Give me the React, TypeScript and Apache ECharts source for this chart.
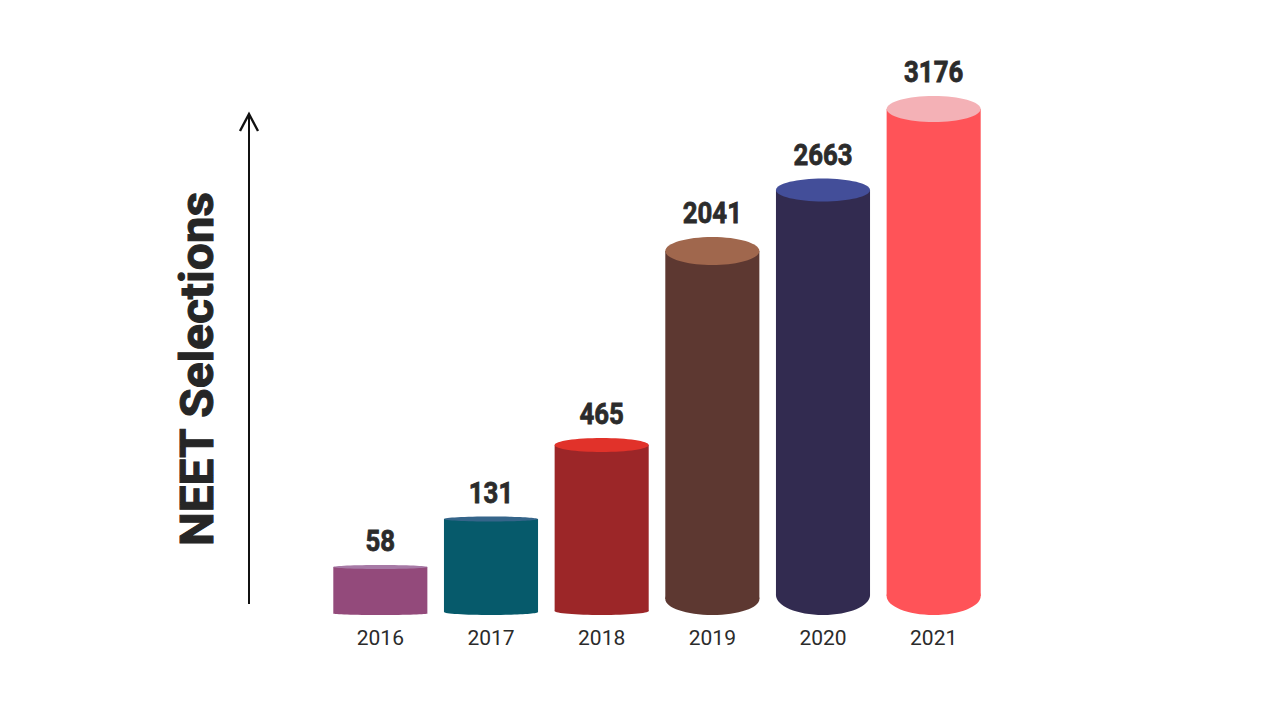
import React, { useEffect, useRef } from "react";
import * as echarts from "echarts";

const years = ["2016", "2017", "2018", "2019", "2020", "2021"];
const selections = [58, 131, 465, 2041, 2663, 3176];
// drawn height of each cylinder (the infographic is not to scale)
const drawnHeight = [48, 96, 170, 364, 425, 506];

const bodyColors = ["#934a7b", "#065a6b", "#9c2628", "#5d3831", "#322b50", "#ff5358"];
const capColors = ["#a77aa6", "#35658a", "#e1322a", "#a0674d", "#434e99", "#f4b1b6"];
const topDepth = [2, 2.5, 7, 14, 11.5, 13];
const bottomDepth = [1.5, 3, 4, 16, 20, 19];

export default function App() {
  const ref = useRef<HTMLDivElement>(null);
  useEffect(() => {
    if (!ref.current) return;
    const chart = echarts.init(ref.current, null, { renderer: "svg" });
    chart.setOption({
      animation: false,
      backgroundColor: "#ffffff",
      grid: { left: 325, right: 291, top: 95, bottom: 105 },
      xAxis: {
        type: "category",
        data: years,
        axisLine: { show: false },
        axisTick: { show: false },
        axisLabel: {
          margin: 12,
          fontSize: 21,
          color: "#2b2b2b",
          fontFamily: "Roboto, sans-serif",
        },
      },
      yAxis: { type: "value", min: 0, max: 520, show: false },
      graphic: [
        {
          type: "line",
          shape: { x1: 249, y1: 604, x2: 249, y2: 114 },
          style: { stroke: "#111", lineWidth: 2 },
        },
        {
          type: "polyline",
          shape: { points: [[240, 131], [249, 114], [258, 131]] },
          style: { stroke: "#111", lineWidth: 2.4, fill: "none" },
        },
        {
          type: "text",
          x: 197,
          y: 369,
          rotation: Math.PI / 2,
          scaleX: 1.04,
          style: {
            text: "NEET Selections",
            font: "bold 46px Roboto, sans-serif",
            fill: "#262626",
            stroke: "#262626",
            lineWidth: 1,
            align: "center",
            verticalAlign: "middle",
          },
        },
      ],
      series: [
        {
          type: "custom",
          data: drawnHeight.map((h, i) => [i, h]),
          renderItem: (params: any, api: any) => {
            const i = params.dataIndex;
            const top = api.coord([api.value(0), api.value(1)]);
            const base = api.coord([api.value(0), 0]);
            const bw = api.size([1, 0])[0] * 0.85;
            const cx = top[0];
            const rx = bw / 2;
            const bRy = bottomDepth[i];
            const tRy = topDepth[i];
            const bottomCy = base[1] - bRy;
            return {
              type: "group",
              children: [
                {
                  type: "ellipse",
                  shape: { cx, cy: bottomCy, rx, ry: bRy },
                  style: { fill: bodyColors[i] },
                },
                {
                  type: "rect",
                  shape: { x: cx - rx, y: top[1], width: bw, height: bottomCy - top[1] },
                  style: { fill: bodyColors[i] },
                },
                {
                  type: "ellipse",
                  shape: { cx, cy: top[1], rx, ry: tRy },
                  style: { fill: capColors[i] },
                },
                {
                  type: "text",
                  x: cx,
                  y: top[1] - tRy - 24,
                  scaleX: 0.86,
                  style: {
                    text: String(selections[i]),
                    font: "bold 30px Roboto, sans-serif",
                    fill: "#2b2b2b",
                    stroke: "#2b2b2b",
                    lineWidth: 0.8,
                    align: "center",
                    verticalAlign: "middle",
                  },
                },
              ],
            };
          },
        },
      ],
    });
    return () => chart.dispose();
  }, []);
  return (
    <div
      ref={ref}
      style={{ position: "fixed", left: 0, top: 0, width: 1280, height: 720 }}
    />
  );
}
